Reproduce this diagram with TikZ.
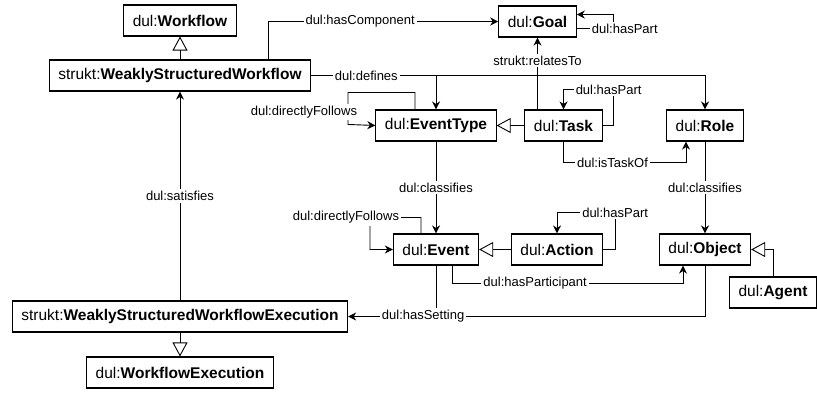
\documentclass[tikz,border=0pt]{standalone}
\usepackage{fontspec}
\setmainfont{Liberation Sans}
\usepackage{tikz}
\usetikzlibrary{arrows.meta}
\tikzset{
    cls/.style={rectangle, draw, line width=1.1pt, inner xsep=9pt, inner ysep=0pt,
        minimum height=31pt, fill=white, font=\fontsize{15.5}{18}\selectfont}
}
\tikzset{
    rel/.style={fill=white, inner sep=2pt, font=\fontsize{13}{15}\selectfont}
}
\tikzset{
    arr/.style={line width=0.9pt, -{Stealth[length=8pt,width=8pt,inset=2.5pt]}},
    isa/.style={line width=0.9pt, -{Triangle[open,length=14pt,width=15pt,line width=0.9pt]}}
}

\begin{document}
\begin{tikzpicture}[x=1pt,y=-1pt]
  \useasboundingbox (0,0) rectangle (817,392);
  \node (wf) [cls] at (180,20.5) {dul:\textbf{Workflow}};
  \node (wsw) [cls] at (180,75.5) {strukt:\textbf{WeaklyStructuredWorkflow}};
  \node (goal) [cls] at (537.5,21.5) {dul:\textbf{Goal}};
  \node (et) [cls] at (436,125.5) {dul:\textbf{EventType}};
  \node (task) [cls] at (563.5,125.5) {dul:\textbf{Task}};
  \node (role) [cls] at (705,125.5) {dul:\textbf{Role}};
  \node (ev) [cls] at (436,249.5) {dul:\textbf{Event}};
  \node (act) [cls] at (557,249.5) {dul:\textbf{Action}};
  \node (obj) [cls] at (705,249.5) {dul:\textbf{Object}};
  \node (agent) [cls] at (773,292.5) {dul:\textbf{Agent}};
  \node (wswe) [cls] at (180,316.5) {strukt:\textbf{WeaklyStructuredWorkflowExecution}};
  \node (wfe) [cls] at (180,372.5) {dul:\textbf{WorkflowExecution}};
  \draw[isa] (wsw) -- (wf); \draw[isa] (wswe) -- (wfe);
  \draw[isa] (task) -- (et); \draw[isa] (act) -- (ev);
  \draw[isa] (agent.north) |- (obj.east);
  \draw[arr] ([xshift=88pt]wsw.north) |- node[rel, pos=0.7] {dul:hasComponent} (goal);
  \draw[arr] ([yshift=-7pt]goal.east) -- ++(37,0) node[rel, xshift=11pt] {dul:hasPart}
    -- ++(0,-14) -- ([yshift=7pt]goal.east);
  \draw[arr] (wsw.east) -| (et.north);
  \draw[arr] (wsw.east) -| node[rel, pos=0.07] {dul:defines} (role.north);
  \draw[arr] ([xshift=-26pt]task.north) -- node[rel, pos=0.68] {strukt:relatesTo}
    ([xshift=-26pt]task.north |- goal.south);
  \draw[arr] ([xshift=-21pt]et.north) -- ++(0,-17) -- ++(-67,0)
    -- ++(0,32) node[rel, pos=0.62, xshift=-44pt] {dul:directlyFollows} -- (et.west);
  \draw[arr] (task.east) -- ++(11,0) -- ++(0,-36) node[rel, xshift=-5pt] {dul:hasPart}
    -| (task.north);
  \draw[arr] (task.south) |- node[rel, pos=0.7] {dul:isTaskOf}
    ([xshift=-19pt,yshift=-21pt]role.south) -- ([xshift=-19pt]role.south);
  \draw[arr] (et) -- node[rel] {dul:classifies} (ev);
  \draw[arr] (role) -- node[rel] {dul:classifies} (obj);
  \draw[arr] ([xshift=-15pt]ev.north) -- ++(0,-16) -- ++(-51,0)
    node[rel, xshift=-24pt] {dul:directlyFollows} -- ++(0,32) -- (ev.west);
  \draw[arr] (act.east) -- ++(12,0) -- ++(0,-37) node[rel] {dul:hasPart} -| (act.north);
  \draw[arr] ([xshift=16pt]ev.south) |- node[rel, pos=0.68] {dul:hasParticipant}
    ([xshift=-22pt,yshift=-18pt]obj.south) -- ([xshift=-22pt]obj.south);
  \draw[line width=0.9pt] (ev.south) -- (ev.south |- wswe.east);
  \draw[arr] (obj.south) |- node[rel, pos=0.895] {dul:hasSetting} (wswe.east);
  \draw[arr] (wswe) -- node[rel] {dul:satisfies} (wsw);
\end{tikzpicture}
\end{document}
